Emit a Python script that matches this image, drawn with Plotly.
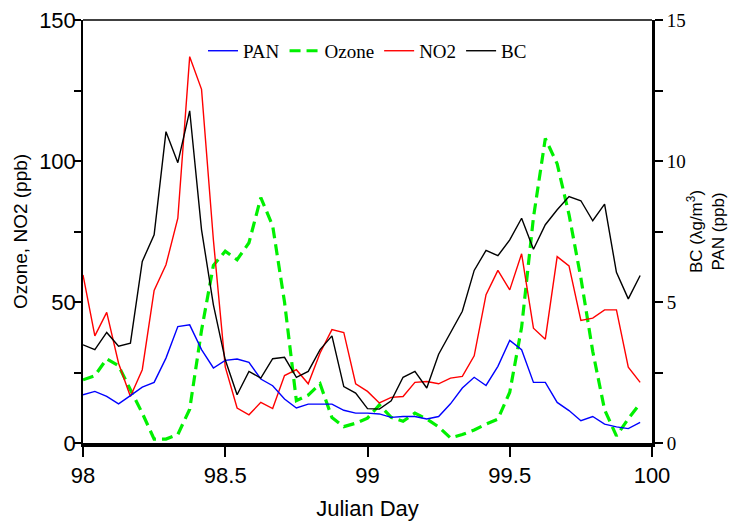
import plotly.graph_objects as go

# ---- data (hourly, Julian day 98.0 - 99.958) ----
hours = list(range(48))
julian_day = [98 + h / 24 for h in hours]

pan_ppb = [1.71, 1.83, 1.65, 1.39, 1.68, 1.98, 2.15, 3.01, 4.13, 4.19,
           3.31, 2.66, 2.93, 2.98, 2.86, 2.27, 2.03, 1.56, 1.24, 1.38,
           1.38, 1.38, 1.16, 1.06, 1.06, 1.03, 0.91, 0.94, 0.94, 0.85,
           0.94, 1.39, 1.95, 2.33, 2.04, 2.72, 3.64, 3.31, 2.15, 2.15,
           1.44, 1.15, 0.79, 0.94, 0.67, 0.57, 0.51, 0.73]

ozone_ppb = [22.4, 23.9, 29.8, 27.4, 18.9, 10.6, 1.4, 1.4, 3.0, 12,
             40, 63, 68, 65, 71, 87, 77, 50, 15, 17,
             21, 9, 5.8, 7, 8.8, 13.5, 9.1, 7.7, 10.6, 8.5,
             5.7, 1.8, 3.0, 4.6, 6.7, 8.5, 18, 41, 80, 108,
             99, 81, 58.5, 32.5, 11.8, 2.5, 8.6, 14]

no2_ppb = [59.6, 38.0, 46.3, 28.3, 16.5, 26.0, 54.1, 63.2, 79.7, 137.0,
           125.4, 72, 27.0, 12.4, 10.0, 14.4, 12.2, 23.9, 26.0, 21.0,
           31.9, 40.2, 39.2, 21.0, 18.3, 14.2, 16.2, 16.5, 21.5, 21.8,
           21.0, 23.0, 23.6, 30.9, 52.6, 61.2, 54.3, 67.1, 40.7, 36.8,
           66.1, 62.8, 43.5, 44.3, 47.2, 47.2, 26.9, 21.5]

bc_ugm3 = [3.48, 3.31, 3.92, 3.43, 3.54, 6.44, 7.38, 11.04, 9.94, 11.78,
           7.56, 4.90, 2.95, 1.71, 2.54, 2.30, 2.99, 3.04, 2.33, 2.54,
           3.31, 3.80, 2.00, 1.77, 1.22, 1.20, 1.50, 2.33, 2.54, 1.95,
           3.15, 3.90, 4.67, 6.12, 6.83, 6.64, 7.20, 7.97, 6.87, 7.74,
           8.27, 8.74, 8.59, 7.88, 8.47, 6.05, 5.11, 5.94]

left_ticks = [0, 50, 100, 150]
left_labels = ["0", "50", "100", "150"]
left_minor = [25, 75, 125]
right_ticks = [0, 5, 10, 15]
right_labels = ["0", "5", "10", "15"]
right_minor = [2.5, 7.5, 12.5]
x_ticks = [98, 98.5, 99, 99.5, 100]
x_labels = ["98", "98.5", "99", "99.5", "100"]

SANS = "Liberation Sans, Arial, sans-serif"
SERIF = "Liberation Serif, Times New Roman, serif"

fig = go.Figure()
fig.add_trace(go.Scatter(x=julian_day, y=pan_ppb, name="PAN", mode="lines",
                         line=dict(color="#0000FF", width=1.4), yaxis="y2"))
fig.add_trace(go.Scatter(x=julian_day, y=ozone_ppb, name="Ozone", mode="lines",
                         line=dict(color="#00F000", width=3.2, dash="11px,6px")))
fig.add_trace(go.Scatter(x=julian_day, y=no2_ppb, name="NO2", mode="lines",
                         line=dict(color="#FF0000", width=1.4)))
fig.add_trace(go.Scatter(x=julian_day, y=bc_ugm3, name="BC", mode="lines",
                         line=dict(color="#000000", width=1.4), yaxis="y2"))

fig.update_layout(
    width=742, height=521,
    margin=dict(l=83, r=90, t=20, b=78, autoexpand=False),
    paper_bgcolor="white", plot_bgcolor="white",
    showlegend=True,
    legend=dict(orientation="h", x=0.5, xanchor="center", y=0.927, yanchor="middle",
                font=dict(family=SERIF, size=19, color="black"),
                bgcolor="rgba(0,0,0,0)", itemwidth=30, tracegroupgap=0),
    xaxis=dict(range=[98, 100], tickvals=x_ticks, ticktext=x_labels,
               ticks="outside", ticklen=10, tickwidth=1.5, tickcolor="black",
               showline=True, linewidth=3.5, linecolor="black",
               showgrid=False, zeroline=False, automargin=False,
               tickfont=dict(family=SANS, size=22, color="black"),
               title=dict(text="Julian Day", font=dict(family=SANS, size=22, color="black"),
                          standoff=18)),
    yaxis=dict(range=[0, 150], tickvals=left_ticks, ticktext=left_labels,
               ticks="outside", ticklen=7, tickwidth=1.5, tickcolor="black",
               minor=dict(tickvals=left_minor, ticks="outside", ticklen=7,
                          tickwidth=1.5, tickcolor="black", showgrid=False),
               ticklabelstandoff=-6,
               showline=True, linewidth=1.5, linecolor="black",
               showgrid=False, zeroline=False, automargin=False,
               tickfont=dict(family=SANS, size=22, color="black"),
               title=dict(text="Ozone, NO2 (ppb)", font=dict(family=SANS, size=19, color="black"),
                          standoff=6)),
    yaxis2=dict(range=[0, 15], overlaying="y", side="right",
                tickvals=right_ticks, ticktext=right_labels,
                ticks="outside", ticklen=8, tickwidth=1.5, tickcolor="black",
                minor=dict(tickvals=right_minor, ticks="outside", ticklen=8,
                           tickwidth=1.5, tickcolor="black", showgrid=False),
                showline=True, linewidth=3, linecolor="black",
                showgrid=False, zeroline=False, automargin=False,
                tickfont=dict(family=SERIF, size=19, color="black"),
                title=dict(text="BC (λg/m<sup>3</sup>)<br>PAN (ppb)",
                           font=dict(family=SANS, size=17, color="black"), standoff=6)),
    shapes=[dict(type="line", xref="paper", yref="paper", x0=0, x1=1, y0=1, y1=1,
                 line=dict(color="black", width=1.5))],
)

fig.write_html("out.html", config={"displayModeBar": False},
               post_script="document.body.style.margin='0';document.body.style.overflow='hidden';")
